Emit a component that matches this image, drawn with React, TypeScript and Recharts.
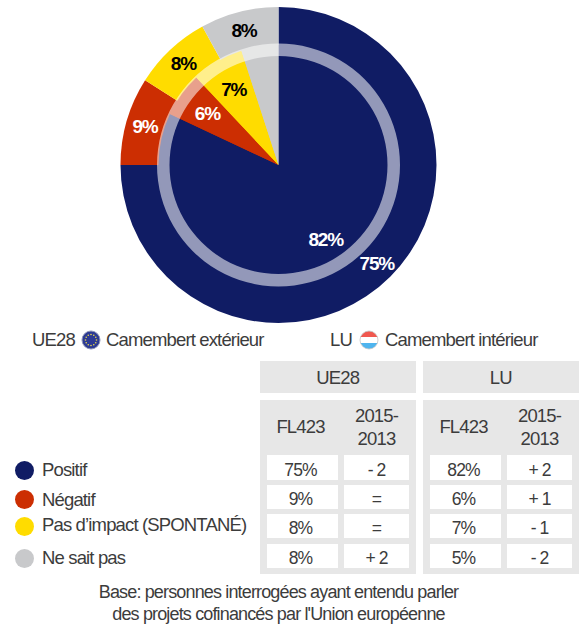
import React from 'react';
import { PieChart, Pie, Cell } from 'recharts';

const categories = ['Positif', 'Négatif', "Pas d’impact (SPONTANÉ)", 'Ne sait pas'];
const outerValues = [75, 9, 8, 8];
const innerValues = [82, 6, 7, 5];
const outerChange = ['- 2', '=', '=', '+ 2'];
const innerChange = ['+ 2', '+ 1', '- 1', '- 2'];
const ringValues = [100];

const COLORS = ['#101C64', '#CC2E02', '#FFDC00', '#C8C9CB'];
const LABEL_COLORS = ['#fff', '#fff', '#000', '#000'];
const TEXT = '#3c3c3c';
const FONT = '"Liberation Sans", Arial, sans-serif';

const outerData = categories.map((name, i) => ({ name, value: outerValues[i] }));
const innerData = categories.map((name, i) => ({ name, value: innerValues[i] }));
const ringData = ringValues.map((value) => ({ name: 'ring', value }));

const RAD = Math.PI / 180;

const sliceLabel = (dist: number, hidden: number[]) => (props: any) => {
    const { cx, cy, midAngle, value, index } = props;
    if (hidden.includes(index)) return null;
    const x = cx + dist * Math.cos(-midAngle * RAD);
    const y = cy + dist * Math.sin(-midAngle * RAD);
    return (
        <text
            x={x}
            y={y}
            textAnchor="middle"
            dominantBaseline="central"
            fill={LABEL_COLORS[index]}
            style={{ fontFamily: FONT, fontWeight: 700, fontSize: 19, letterSpacing: -1.2 }}
        >
            {value}%
        </text>
    );
};

const Txt = ({ x, y, w, children, align = 'center', size = 18.5, spacing = -0.85 }: any) => (
    <div
        style={{
            position: 'absolute',
            left: x,
            top: y - 12,
            width: w,
            height: 24,
            lineHeight: '24px',
            textAlign: align,
            fontSize: size,
            letterSpacing: spacing,
            color: TEXT,
            whiteSpace: 'nowrap',
        }}
    >
        {children}
    </div>
);

const Box = ({ x, y, w, h, color }: any) => (
    <div style={{ position: 'absolute', left: x, top: y, width: w, height: h, background: color }} />
);

const EuFlag = ({ x, y }: any) => (
    <svg style={{ position: 'absolute', left: x - 10, top: y - 10 }} width={20} height={20}>
        <circle cx={10} cy={10} r={9} fill="#2c3a94" stroke="#8f95b8" strokeWidth={1} />
        {[0, 1, 2, 3, 4, 5, 6, 7, 8, 9, 10, 11].map((i) => (
            <circle
                key={i}
                cx={10 + 5.5 * Math.cos(i * 30 * RAD)}
                cy={10 + 5.5 * Math.sin(i * 30 * RAD)}
                r={0.8}
                fill="#e8d84a"
            />
        ))}
    </svg>
);

const LuFlag = ({ x, y }: any) => (
    <svg style={{ position: 'absolute', left: x - 10, top: y - 10 }} width={20} height={20}>
        <defs>
            <clipPath id="luClip">
                <circle cx={10} cy={10} r={9} />
            </clipPath>
        </defs>
        <g clipPath="url(#luClip)">
            <rect x={0} y={0} width={20} height={7} fill="#f0584f" />
            <rect x={0} y={7} width={20} height={6} fill="#fff" />
            <rect x={0} y={13} width={20} height={7} fill="#4fb4ee" />
        </g>
        <circle cx={10} cy={10} r={9} fill="none" stroke="#c4c4c4" strokeWidth={0.8} />
    </svg>
);

const dotY = [470, 499, 526, 558];
const legendY = [470, 500, 525, 558];
const rowTop = [455, 485, 514, 544];
const rowH = [25, 24, 24, 24];
const rowText = [470, 499, 528, 558];

const TableBlock = ({ x, title, values, changes }: any) => (
    <>
        <Box x={x} y={361} w={155.5} h={32} color="#E7E7E7" />
        <Txt x={x} y={378} w={155.5}>{title}</Txt>
        <Box x={x} y={400} w={155.5} h={174} color="#E7E7E7" />
        <Txt x={x + 7} y={427} w={67}>FL423</Txt>
        <Txt x={x + 84} y={416} w={65}>2015-</Txt>
        <Txt x={x + 84} y={439} w={65}>2013</Txt>
        {categories.map((c, i) => (
            <React.Fragment key={c}>
                <Box x={x + 7} y={rowTop[i]} w={71} h={rowH[i]} color="#fff" />
                <Box x={x + 84} y={rowTop[i]} w={65} h={rowH[i]} color="#fff" />
                <Txt x={x + 7} y={rowText[i]} w={67} size={17.5} spacing={-0.9}>{values[i]}%</Txt>
                <Txt x={x + 84} y={rowText[i]} w={65} size={17.5} spacing={-0.9}>{changes[i]}</Txt>
            </React.Fragment>
        ))}
    </>
);

export default function App() {
    return (
        <div
            style={{
                position: 'absolute',
                left: 0,
                top: 0,
                width: 587,
                height: 625,
                background: '#fff',
                fontFamily: FONT,
                overflow: 'hidden',
            }}
        >
            <div style={{ position: 'absolute', left: 0, top: 0 }}>
                <PieChart width={587} height={330} margin={{ top: 0, right: 0, bottom: 0, left: 0 }}>
                    <Pie
                        data={outerData}
                        dataKey="value"
                        cx={278.5}
                        cy={165}
                        outerRadius={158}
                        innerRadius={0}
                        startAngle={90}
                        endAngle={-270}
                        stroke="none"
                        label={sliceLabel(139, [])}
                        labelLine={false}
                        isAnimationActive={false}
                    >
                        {outerData.map((d, i) => (
                            <Cell key={d.name} fill={COLORS[i]} />
                        ))}
                    </Pie>
                    <Pie
                        data={innerData}
                        dataKey="value"
                        cx={278.5}
                        cy={165}
                        outerRadius={120}
                        innerRadius={0}
                        startAngle={90}
                        endAngle={-270}
                        stroke="none"
                        label={sliceLabel(88, [3])}
                        labelLine={false}
                        isAnimationActive={false}
                    >
                        {innerData.map((d, i) => (
                            <Cell key={d.name} fill={COLORS[i]} />
                        ))}
                    </Pie>
                    <Pie
                        data={ringData}
                        dataKey="value"
                        cx={278.5}
                        cy={165}
                        outerRadius={121.5}
                        innerRadius={109}
                        startAngle={90}
                        endAngle={-270}
                        stroke="none"
                        fill="#fff"
                        fillOpacity={0.55}
                        isAnimationActive={false}
                    />
                </PieChart>
            </div>

            <Txt x={32} y={340} w={60} align="left">UE28</Txt>
            <EuFlag x={91} y={340} />
            <Txt x={106} y={340} w={170} align="left">Camembert extérieur</Txt>
            <Txt x={330} y={340} w={30} align="left">LU</Txt>
            <LuFlag x={369} y={340} />
            <Txt x={385} y={340} w={170} align="left">Camembert intérieur</Txt>

            <TableBlock x={260} title="UE28" values={outerValues} changes={outerChange} />
            <TableBlock x={423} title="LU" values={innerValues} changes={innerChange} />

            {categories.map((c, i) => (
                <React.Fragment key={c}>
                    <div
                        style={{
                            position: 'absolute',
                            left: 15,
                            top: dotY[i] - 9.5,
                            width: 19,
                            height: 19,
                            borderRadius: '50%',
                            background: COLORS[i],
                        }}
                    />
                    <Txt x={42} y={legendY[i]} w={215} align="left">{c}</Txt>
                </React.Fragment>
            ))}

            <Txt x={0} y={592} w={557} size={18}>Base: personnes interrogées ayant entendu parler</Txt>
            <Txt x={0} y={614} w={557} size={18}>des projets cofinancés par l'Union européenne</Txt>
        </div>
    );
}
